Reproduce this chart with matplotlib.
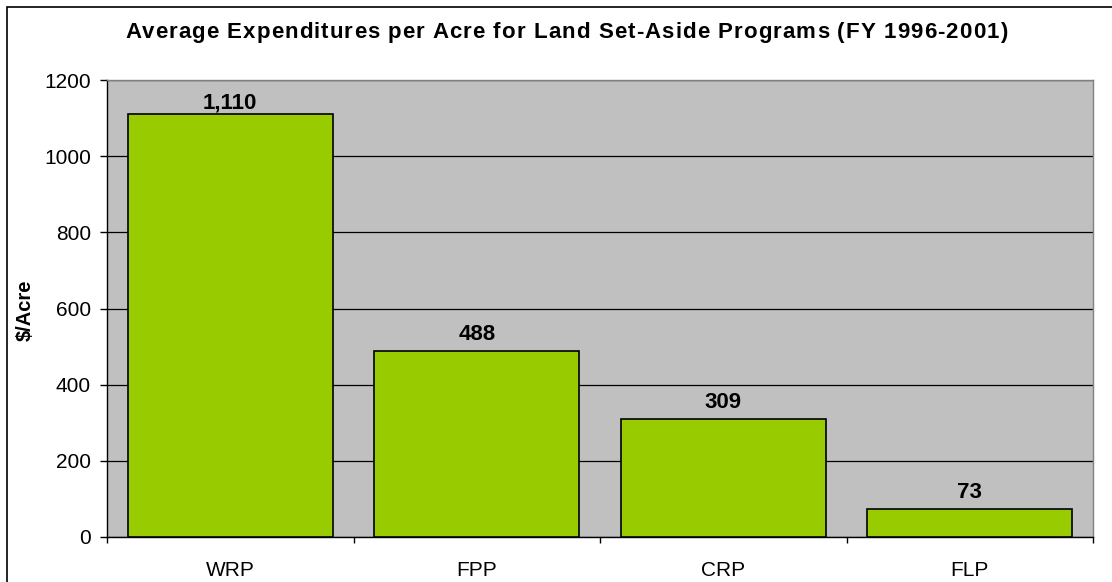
import matplotlib.pyplot as plt
import matplotlib.patches as mpatches
from matplotlib.font_manager import FontProperties

programs = ["WRP", "FPP", "CRP", "FLP"]
dollars_per_acre = [1110, 488, 309, 73]
value_labels = ["1,110", "488", "309", "73"]
y_ticks = [0, 200, 400, 600, 800, 1000, 1200]
title = "Average Expenditures per Acre for Land Set-Aside Programs (FY 1996-2001)"

plt.rcParams['font.family'] = ['Liberation Sans', 'DejaVu Sans']

W, H = 1112, 582
fig = plt.figure(figsize=(W / 100, H / 100), dpi=100)
ax = fig.add_axes([107 / W, 1 - 537 / H, 986 / W, 457 / H])

# outer chart border (only left and top visible in the picture)
fig.patches.append(mpatches.Rectangle((7 / W, -0.1), 1.2, 1 - 7 / H + 0.1,
                                      transform=fig.transFigure, fill=False,
                                      edgecolor="black", linewidth=1.2))

ax.set_facecolor("#C0C0C0")
pos = range(len(programs))
ax.bar(pos, dollars_per_acre, width=0.833, color="#99CC00",
       edgecolor="black", linewidth=1.2, zorder=3)

for i, (v, lab) in enumerate(zip(dollars_per_acre, value_labels)):
    # keep the label inside the plot area for the tall bar
    off = 7.8 if v < 1000 else 4.5
    ax.annotate(lab, (i, v), xytext=(0, off), textcoords="offset points",
                ha="center", va="baseline", fontsize=16, fontweight="bold", zorder=4)

ax.set_xlim(-0.5, len(programs) - 0.5)
ax.set_ylim(0, 1200)
ax.set_yticks(y_ticks)
ax.set_yticklabels([str(t) for t in y_ticks], fontsize=15)
ax.yaxis.grid(True, color="black", linewidth=0.9, zorder=1)
ax.set_axisbelow(True)

ax.set_xticks(list(pos))
ax.set_xticklabels(programs, fontsize=15)
ax.tick_params(axis="x", length=0, pad=17)
ax.set_xticks([p - 0.5 for p in range(len(programs) + 1)], minor=True)
ax.tick_params(axis="x", which="minor", length=4.5, width=1, color="black")
ax.tick_params(axis="y", length=5, width=1, color="black", pad=6.5)

for side in ["top", "right"]:
    ax.spines[side].set_color("#808080")
    ax.spines[side].set_linewidth(1)
for side in ["left", "bottom"]:
    ax.spines[side].set_color("black")
    ax.spines[side].set_linewidth(1)

fig.text(25 / W, 1 - 310 / H, "$/Acre", rotation=90, ha="center", va="center",
         fontsize=14.5, fontweight="bold")

# title with a bit of letter spacing, like the original
prop = FontProperties(family=['Liberation Sans', 'DejaVu Sans'], size=16, weight="bold")
renderer = fig.canvas.get_renderer()


def text_w(s):
    w_full = renderer.get_text_width_height_descent("a" + s + "a", prop, ismath=False)[0]
    w_aa = renderer.get_text_width_height_descent("aa", prop, ismath=False)[0]
    return w_full - w_aa


full_w = text_w(title)
target_w = 882
track = (target_w - full_w) / (len(title) - 1)
x0 = 566 - target_w / 2
for i, ch in enumerate(title):
    if ch == " ":
        continue
    x = x0 + text_w(title[:i]) + i * track
    fig.text(x / W, 1 - 38 / H, ch, ha="left", va="baseline", fontproperties=prop)

fig.savefig("out.png", dpi=100)
